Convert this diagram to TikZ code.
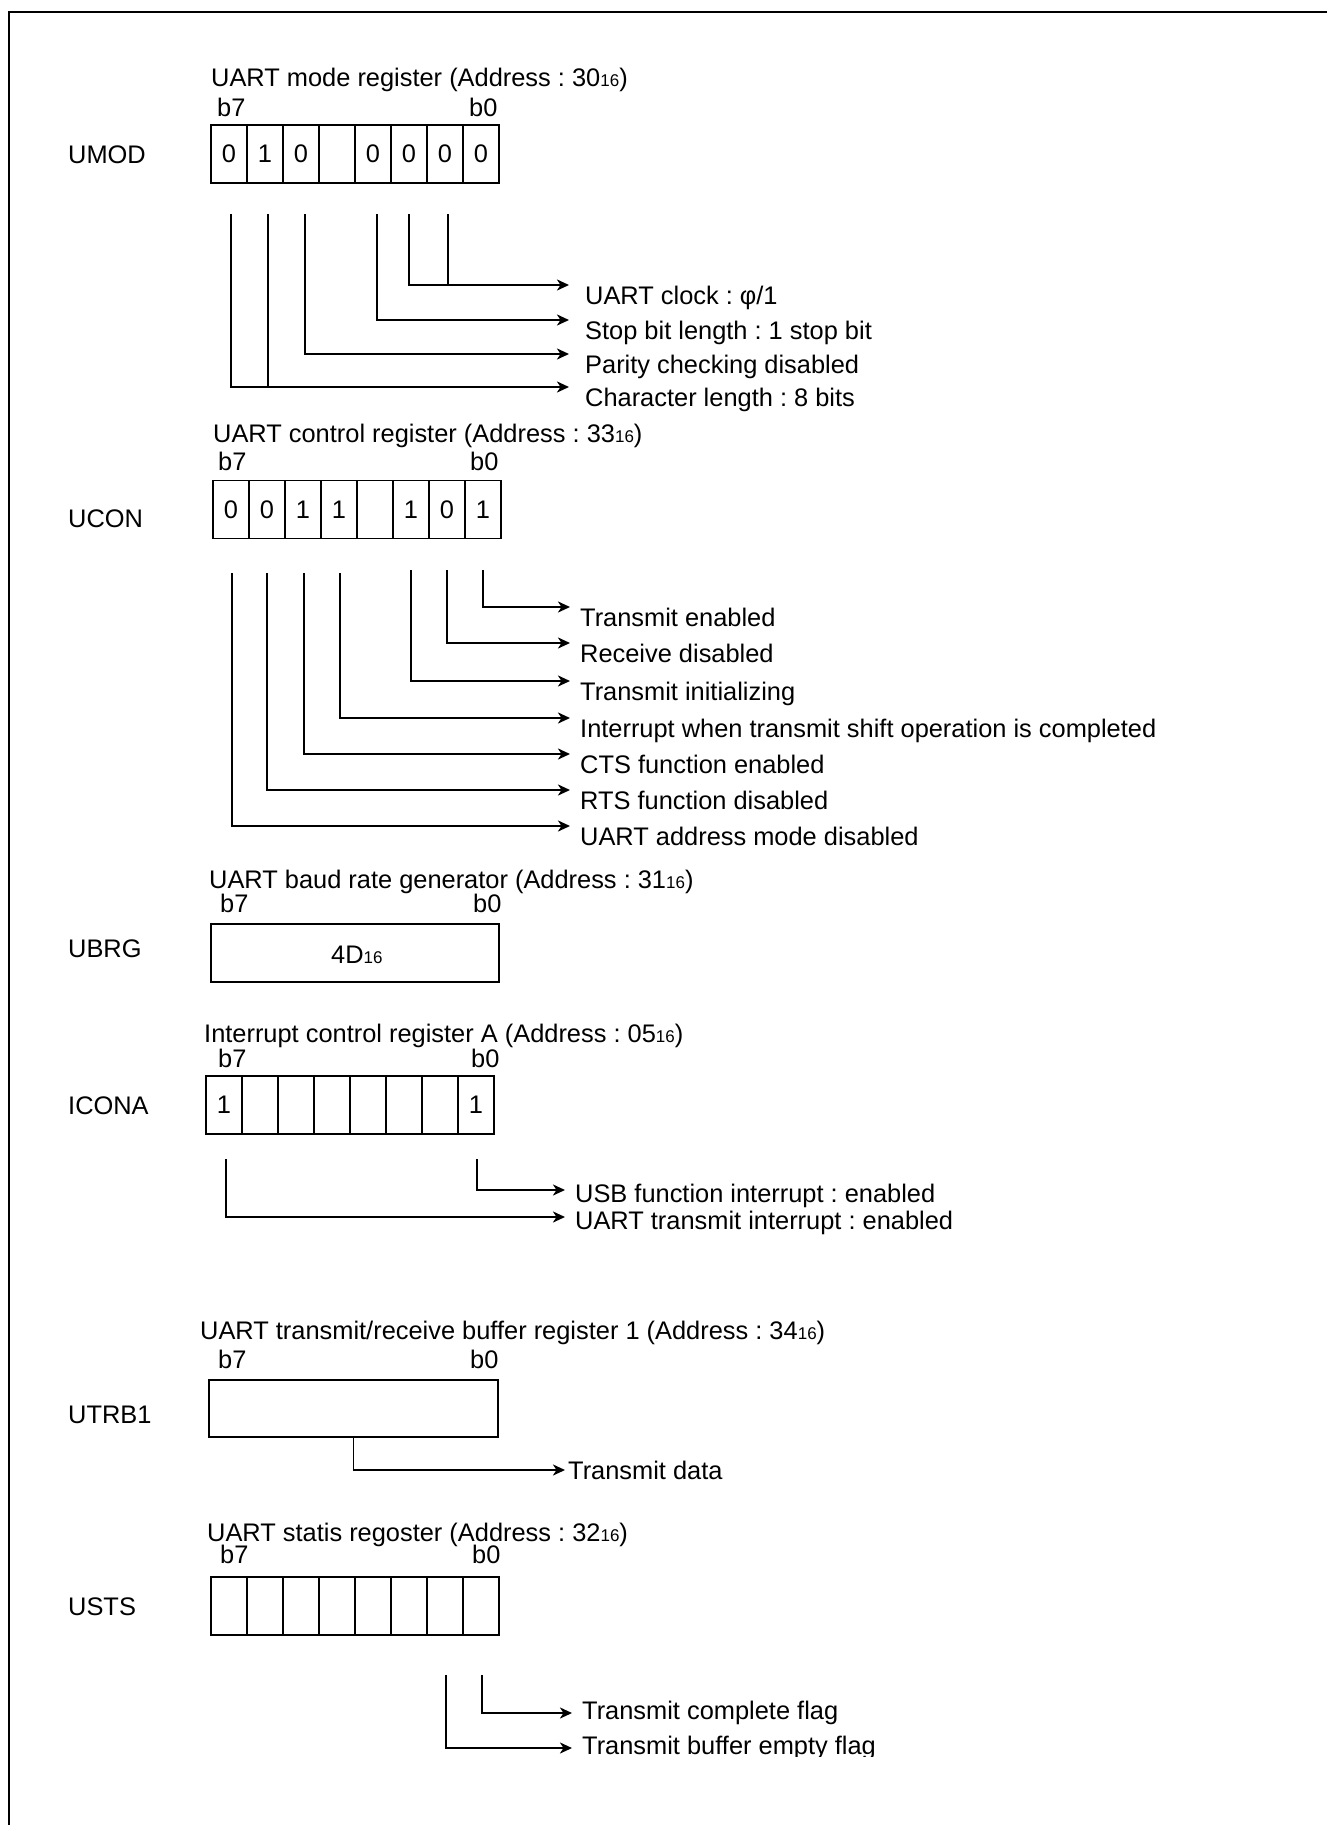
\documentclass[tikz,border=0pt]{standalone}
\usepackage{fontspec}
\setmainfont{Liberation Sans}
\usetikzlibrary{arrows.meta,calc}
\frenchspacing
\newcommand{\fs}{\fontsize{25.4}{30}\selectfont\frenchspacing}
\newcommand{\hsub}[1]{{\fontsize{17}{17}\selectfont #1}}
\newcommand{\elbow}[2]{%
  \draw[vl] (#1) -- (#1 |- #2);
  \draw[hl] ($(#1 |- #2)+(-0.8,0)$) -- (#2);}
\newcommand{\drop}[2]{\draw[vl] (#1) -- (#1 |- #2);}
\begin{document}
\begin{tikzpicture}[x=1pt,y=-1pt,
  lbl/.style={inner sep=0pt, anchor=base west, font=\fs},
  cell/.style={draw, line width=1.8pt, minimum width=36pt, minimum height=58pt, inner sep=0pt, font=\fs},
  widebox/.style={draw, line width=1.8pt, minimum width=288pt, minimum height=58pt, inner sep=0pt, font=\fs},
  vl/.style={line width=1.7pt},
  hl/.style={line width=2.5pt, -{Stealth[length=12pt,width=11pt,inset=3.5pt]}},
  framel/.style={line width=2pt}]
\useasboundingbox (0,0) rectangle (1327,1825);
\fill[white] (0,0) rectangle (1327,1825);
\draw[framel] (9,1825) -- (9,12) -- (1327,12);

% ---------------- UMOD ----------------
\node[lbl] (um-title) at (211,87) {UART mode register (Address : 30\hsub{16})};
\node[lbl] (um-b7) at (217,117) {b7};
\node[lbl] (um-b0) at (469,117) {b0};
\node[lbl] (um-name) at (68,163) {UMOD};
\node[cell] (um7) at (229,154) {0};
\node[cell] (um6) at (265,154) {1};
\node[cell] (um5) at (301,154) {0};
\node[cell] (um4) at (337,154) {};
\node[cell] (um3) at (373,154) {0};
\node[cell] (um2) at (409,154) {0};
\node[cell] (um1) at (445,154) {0};
\node[cell] (um0) at (481,154) {0};
\coordinate (um-s7) at (231,214);
\coordinate (um-s6) at (268,214);
\coordinate (um-s5) at (305,214);
\coordinate (um-s3) at (377,214);
\coordinate (um-s2) at (409,214);
\coordinate (um-s1) at (448,214);
\coordinate (um-tA) at (569,285);
\coordinate (um-tB) at (569,320);
\coordinate (um-tC) at (569,354);
\coordinate (um-tD) at (569,387);
\drop{um-s1}{um-tA}
\elbow{um-s2}{um-tA}
\elbow{um-s3}{um-tB}
\elbow{um-s5}{um-tC}
\drop{um-s6}{um-tD}
\elbow{um-s7}{um-tD}
\node[lbl] (um-lA) at ($(um-tA)+(16,19)$) {UART clock : φ/1};
\node[lbl] (um-lB) at ($(um-tB)+(16,19)$) {Stop bit length : 1 stop bit};
\node[lbl] (um-lC) at ($(um-tC)+(16,19)$) {Parity checking disabled};
\node[lbl] (um-lD) at ($(um-tD)+(16,19)$) {Character length : 8 bits};

% ---------------- UCON ----------------
\node[lbl] (uc-title) at (213,442) {UART control register (Address : 33\hsub{16})};
\node[lbl] (uc-b7) at (218,470) {b7};
\node[lbl] (uc-b0) at (470,470) {b0};
\node[lbl] (uc-name) at (68,527) {UCON};
\node[cell] (uc7) at (231,509.5) {0};
\node[cell] (uc6) at (267,509.5) {0};
\node[cell] (uc5) at (303,509.5) {1};
\node[cell] (uc4) at (339,509.5) {1};
\node[cell] (uc3) at (375,509.5) {};
\node[cell] (uc2) at (411,509.5) {1};
\node[cell] (uc1) at (447,509.5) {0};
\node[cell] (uc0) at (483,509.5) {1};
\coordinate (uc-s7) at (232,573);
\coordinate (uc-s6) at (267,573);
\coordinate (uc-s5) at (304,573);
\coordinate (uc-s4) at (340,573);
\coordinate (uc-s2) at (411,570);
\coordinate (uc-s1) at (447,570);
\coordinate (uc-s0) at (483,570);
\coordinate (uc-tA) at (570,607);
\coordinate (uc-tB) at (570,643);
\coordinate (uc-tC) at (570,681);
\coordinate (uc-tD) at (570,718);
\coordinate (uc-tE) at (570,754);
\coordinate (uc-tF) at (570,790);
\coordinate (uc-tG) at (570,826);
\elbow{uc-s0}{uc-tA}
\elbow{uc-s1}{uc-tB}
\elbow{uc-s2}{uc-tC}
\elbow{uc-s4}{uc-tD}
\elbow{uc-s5}{uc-tE}
\elbow{uc-s6}{uc-tF}
\elbow{uc-s7}{uc-tG}
\node[lbl] (uc-lA) at ($(uc-tA)+(10,19)$) {Transmit enabled};
\node[lbl] (uc-lB) at ($(uc-tB)+(10,19)$) {Receive disabled};
\node[lbl] (uc-lC) at ($(uc-tC)+(10,19)$) {Transmit initializing};
\node[lbl] (uc-lD) at ($(uc-tD)+(10,19)$) {Interrupt when transmit shift operation is completed};
\node[lbl] (uc-lE) at ($(uc-tE)+(10,19)$) {CTS function enabled};
\node[lbl] (uc-lF) at ($(uc-tF)+(10,19)$) {RTS function disabled};
\node[lbl] (uc-lG) at ($(uc-tG)+(10,19)$) {UART address mode disabled};

% ---------------- UBRG ----------------
\node[lbl] (ub-title) at (209,888) {UART baud rate generator (Address : 31\hsub{16})};
\node[lbl] (ub-b7) at (220,912) {b7};
\node[lbl] (ub-b0) at (473,912) {b0};
\node[lbl] (ub-name) at (68,957) {UBRG};
\node[widebox] (ub) at (355,953) {};
\node[lbl] (ub-val) at (331,963) {4D\hsub{16}};

% ---------------- ICONA ----------------
\node[lbl] (ic-title) at (204,1042) {Interrupt control register A (Address : 05\hsub{16})};
\node[lbl] (ic-b7) at (218,1067) {b7};
\node[lbl] (ic-b0) at (471,1067) {b0};
\node[lbl] (ic-name) at (68,1114) {ICONA};
\node[cell] (ic7) at (224,1105) {1};
\node[cell] (ic6) at (260,1105) {};
\node[cell] (ic5) at (296,1105) {};
\node[cell] (ic4) at (332,1105) {};
\node[cell] (ic3) at (368,1105) {};
\node[cell] (ic2) at (404,1105) {};
\node[cell] (ic1) at (440,1105) {};
\node[cell] (ic0) at (476,1105) {1};
\coordinate (ic-s7) at (226,1159);
\coordinate (ic-s0) at (477,1159);
\coordinate (ic-tA) at (565,1190);
\coordinate (ic-tB) at (565,1217);
\elbow{ic-s0}{ic-tA}
\elbow{ic-s7}{ic-tB}
\node[lbl] (ic-lA) at ($(ic-tA)+(10,12)$) {USB function interrupt : enabled};
\node[lbl] (ic-lB) at ($(ic-tB)+(10,12)$) {UART transmit interrupt : enabled};

% ---------------- UTRB1 ----------------
\node[lbl] (ut-title) at (200,1339) {UART transmit/receive buffer register 1 (Address : 34\hsub{16})};
\node[lbl] (ut-b7) at (218,1368) {b7};
\node[lbl] (ut-b0) at (470,1368) {b0};
\node[lbl] (ut-name) at (68,1423) {UTRB1};
\node[widebox, minimum width=289pt, minimum height=57pt] (ut) at (353.5,1408.5) {};
\coordinate (ut-tA) at (565,1470);
\elbow{ut.south}{ut-tA}
\node[lbl] (ut-lA) at ($(ut-tA)+(3,9)$) {Transmit data};

% ---------------- USTS ----------------
\node[lbl] (us-title) at (207,1541) {UART statis regoster (Address : 32\hsub{16})};
\node[lbl] (us-b7) at (220,1563) {b7};
\node[lbl] (us-b0) at (472,1563) {b0};
\node[lbl] (us-name) at (68,1615) {USTS};
\node[cell] (us7) at (229,1606) {};
\node[cell] (us6) at (265,1606) {};
\node[cell] (us5) at (301,1606) {};
\node[cell] (us4) at (337,1606) {};
\node[cell] (us3) at (373,1606) {};
\node[cell] (us2) at (409,1606) {};
\node[cell] (us1) at (445,1606) {};
\node[cell] (us0) at (481,1606) {};
\coordinate (us-s1) at (446,1675);
\coordinate (us-s0) at (482,1675);
\coordinate (us-tA) at (572,1713);
\coordinate (us-tB) at (572,1748);
\elbow{us-s0}{us-tA}
\elbow{us-s1}{us-tB}
\node[lbl] (us-lA) at ($(us-tA)+(10,6)$) {Transmit complete flag};
\begin{scope}
  \clip (575,1700) rectangle (1000,1756);
  \node[lbl] (us-lB) at ($(us-tB)+(10,6)$) {Transmit buffer empty flag};
\end{scope}
\end{tikzpicture}
\end{document}
